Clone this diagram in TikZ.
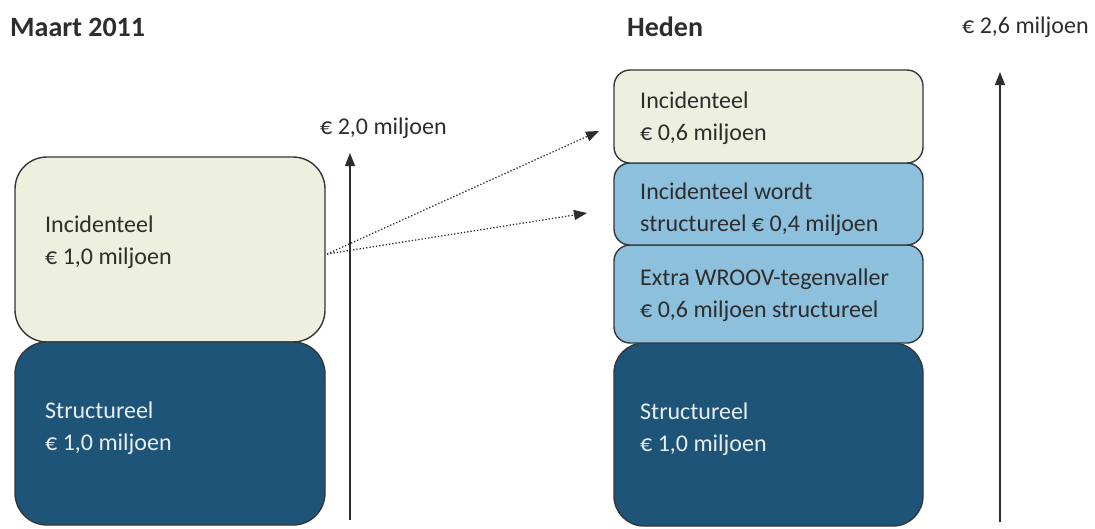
\documentclass[tikz,border=0pt]{standalone}
\usepackage{fontspec}
\setmainfont{Carlito}
\usetikzlibrary{arrows.meta}
\definecolor{cream}{RGB}{237,240,223}
\definecolor{lightblue}{RGB}{140,192,220}
\definecolor{darkblue}{RGB}{31,84,121}
\definecolor{edge}{RGB}{50,55,60}
\definecolor{darktext}{RGB}{45,45,45}
\definecolor{lighttext}{RGB}{232,238,242}
\tikzset{
  box/.style={draw=edge, line width=1.4pt, rectangle, inner sep=0pt},
  boxtext/.style={anchor=west, align=left, font=\fontsize{24}{32}\selectfont, inner sep=0pt},
  heading/.style={anchor=west, font=\fontsize{28}{32}\selectfont\bfseries, text=darktext, inner sep=0pt},
  axislabel/.style={anchor=west, font=\fontsize{24}{28}\selectfont, text=darktext, inner sep=0pt},
  axis/.style={line width=1.3pt, draw=darktext, -{Triangle[length=13pt,width=10pt]}},
  flow/.style={line width=1.3pt, draw=darktext, dotted, -{Triangle[length=13pt,width=10pt]}}
}
\begin{document}
\begin{tikzpicture}[x=1pt,y=-1pt]
\useasboundingbox (0,0) rectangle (1095,528);
% left stack
\node[box, fill=cream, minimum width=310pt, minimum height=185pt, rounded corners=32pt] (li) at (170,249.5) {};
\node[box, fill=darkblue, minimum width=310pt, minimum height=183pt, rounded corners=32pt] (ls) at (170,433.5) {};
\node[boxtext, text=darktext] (lit) at (45,242) {Incidenteel\\€ 1,0 miljoen};
\node[boxtext, text=lighttext] (lst) at (45,428) {Structureel\\€ 1,0 miljoen};
% right stack
\node[box, fill=darkblue, minimum width=309pt, minimum height=183pt, rounded corners=30pt] (rs) at (768.5,434.5) {};
\node[box, fill=lightblue, minimum width=309pt, minimum height=98pt, rounded corners=16pt] (r3) at (768.5,294) {};
\node[box, fill=lightblue, minimum width=309pt, minimum height=82pt, rounded corners=16pt] (r2) at (768.5,204) {};
\node[box, fill=cream, minimum width=309pt, minimum height=93pt, rounded corners=16pt] (r1) at (768.5,116.5) {};
\node[boxtext, text=darktext] (r1t) at (640,118) {Incidenteel\\€ 0,6 miljoen};
\node[boxtext, text=darktext] (r2t) at (640,209) {Incidenteel wordt\\structureel € 0,4 miljoen};
\node[boxtext, text=darktext] (r3t) at (640,295) {Extra WROOV-tegenvaller\\€ 0,6 miljoen structureel};
\node[boxtext, text=lighttext] (rst) at (640,429.5) {Structureel\\€ 1,0 miljoen};
% headings and labels
\node[heading] (h1) at (10,27) {Maart 2011};
\node[heading] (h2) at (627,27) {Heden};
\node[axislabel] (a2) at (962,27) {€ 2,6 miljoen};
\node[axislabel] (a1) at (320,128) {€ 2,0 miljoen};
% axes
\coordinate (la0) at (350,520);
\coordinate (la1) at (350,153);
\coordinate (ra0) at (1000,522);
\coordinate (ra1) at (1000,72);
\draw[axis] (la0) -- (la1);
\draw[axis] (ra0) -- (ra1);
% dotted flows
\coordinate (fs) at (327,254);
\coordinate (fe1) at (599,131);
\coordinate (fe2) at (587,213);
\draw[flow] (fs) -- (fe1);
\draw[flow] (fs) -- (fe2);
\end{tikzpicture}
\end{document}
